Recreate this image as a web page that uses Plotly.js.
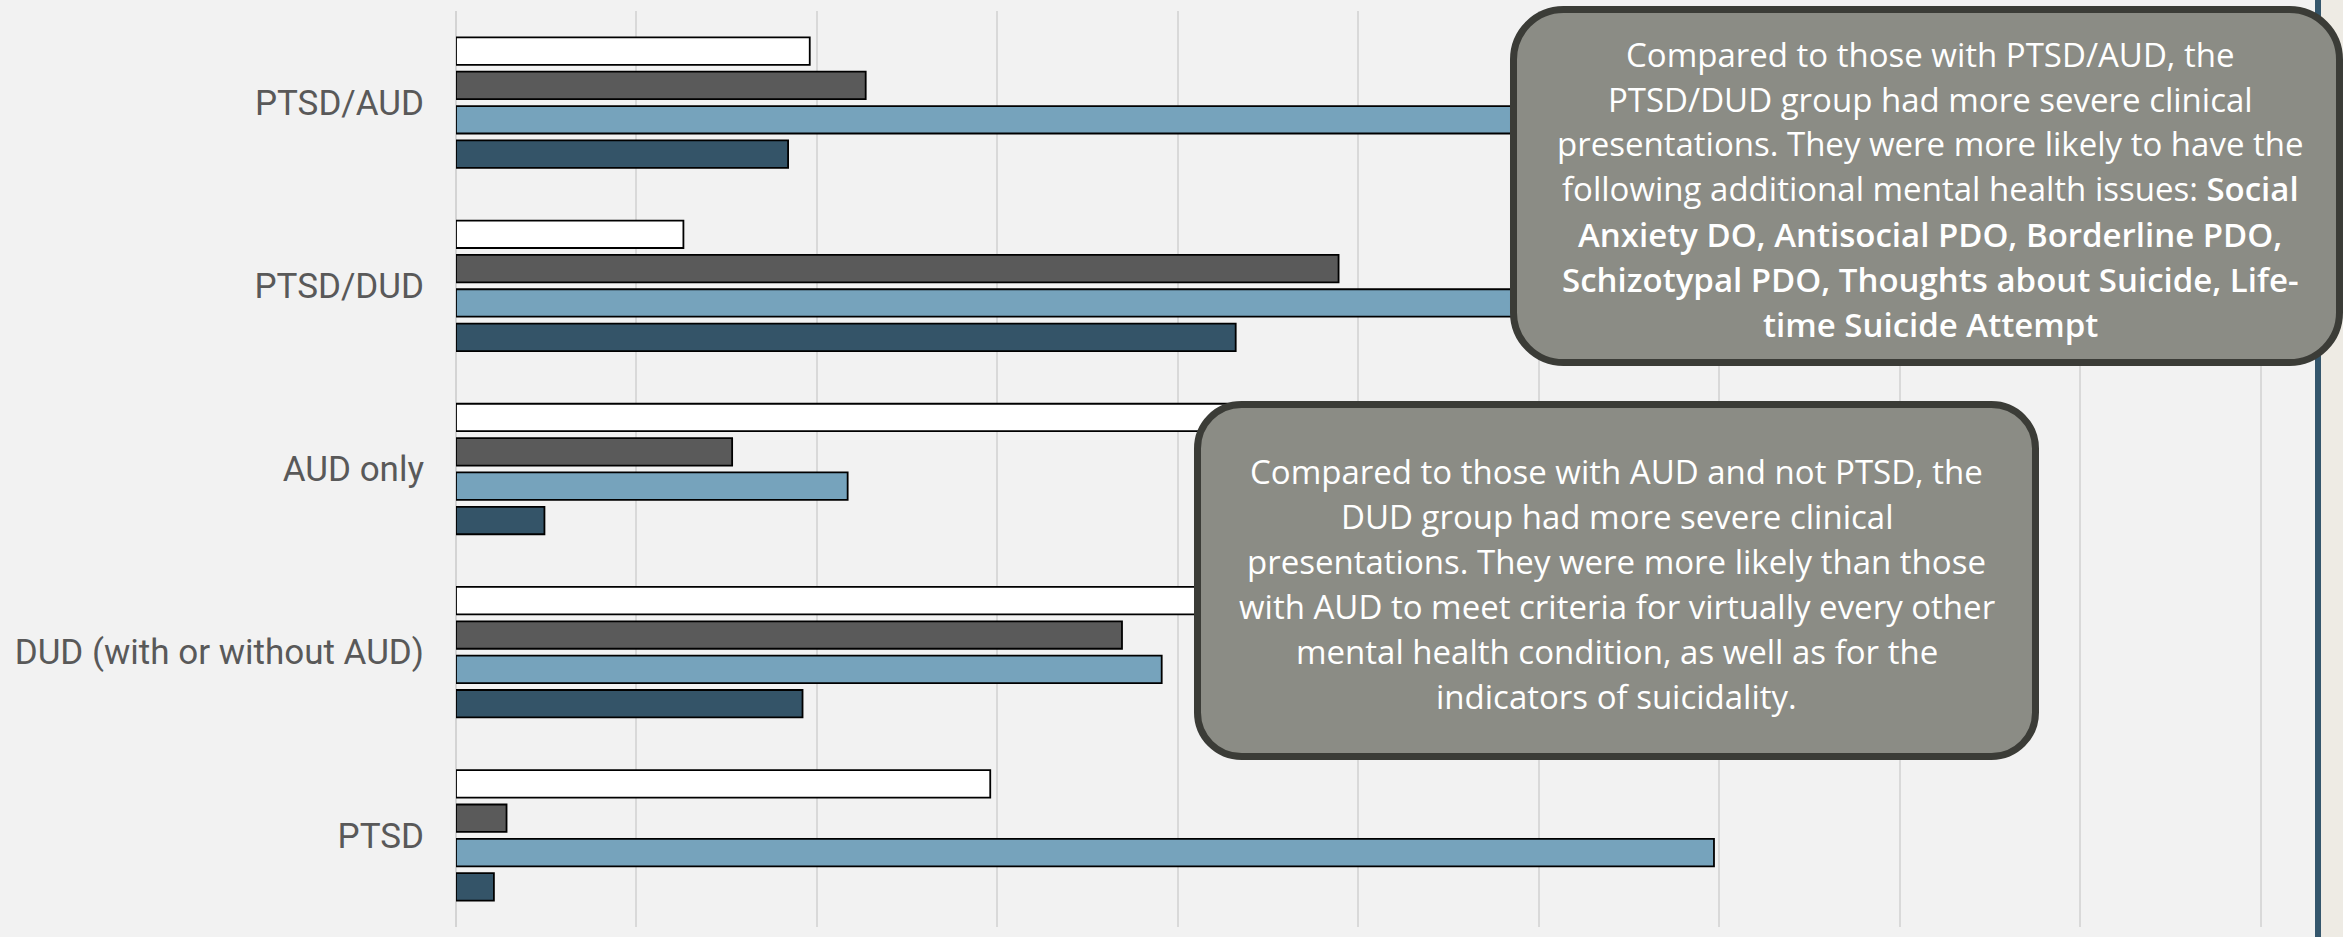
<!DOCTYPE html>
<html>
<head>
<meta charset="utf-8">
<script src="https://cdn.plot.ly/plotly-3.0.1.min.js"></script>
<style>
  html, body { margin: 0; padding: 0; background: #f2f2f2; }
  #chart { width: 2343px; height: 937px; }
</style>
</head>
<body>
<div id="chart"></div>
<script>
// Diagnostic groups, listed top to bottom
const groups = ['PTSD/AUD', 'PTSD/DUD', 'AUD only', 'DUD (with or without AUD)', 'PTSD'];

// Four series per group (percent), top bar to bottom bar
const seriesWhite = [19.6, 12.6, 46.2, 50.8, 29.6];
const seriesGray  = [22.7, 48.9, 15.3, 36.9, 2.8];
const seriesLight = [64.3, 71.5, 21.7, 39.1, 69.7];
const seriesNavy  = [18.4, 43.2, 4.9, 19.2, 2.1];

// Callout texts, one entry per line
const calloutTop = [
  'Compared to those with PTSD/AUD, the',
  'PTSD/DUD group had more severe clinical',
  'presentations. They were more likely to have the',
  'following additional mental health issues: <span style="font-weight:600">Social</span>',
  '<span style="font-weight:600">Anxiety DO, Antisocial PDO, Borderline PDO,</span>',
  '<span style="font-weight:600">Schizotypal PDO, Thoughts about Suicide, Life-</span>',
  '<span style="font-weight:600">time Suicide Attempt</span>'
];
const calloutMid = [
  'Compared to those with AUD and not PTSD, the',
  'DUD group had more severe clinical',
  'presentations. They were more likely than those',
  'with AUD to meet criteria for virtually every other',
  'mental health condition, as well as for the',
  'indicators of suicidality.'
];

// Page geometry (pixels)
const W = 2343, H = 937;
const M = { l: 456, r: 28, t: 11, b: 10 };
const plotW = W - M.l - M.r, plotH = H - M.t - M.b;
const px = v => (v - M.l) / plotW;          // pixel x -> paper x
const py = v => 1 - (v - M.t) / plotH;      // pixel y -> paper y

// Rounded rectangle as a paper-referenced path
function roundRect(x0, y0, x1, y1, r) {
  const k = 0.5523 * r;
  const P = (x, y) => px(x).toFixed(6) + ',' + py(y).toFixed(6);
  return 'M' + P(x0 + r, y0) +
    ' L' + P(x1 - r, y0) +
    ' C' + P(x1 - r + k, y0) + ' ' + P(x1, y0 + r - k) + ' ' + P(x1, y0 + r) +
    ' L' + P(x1, y1 - r) +
    ' C' + P(x1, y1 - r + k) + ' ' + P(x1 - r + k, y1) + ' ' + P(x1 - r, y1) +
    ' L' + P(x0 + r, y1) +
    ' C' + P(x0 + r - k, y1) + ' ' + P(x0, y1 - r + k) + ' ' + P(x0, y1 - r) +
    ' L' + P(x0, y0 + r) +
    ' C' + P(x0, y0 + r - k) + ' ' + P(x0 + r - k, y0) + ' ' + P(x0 + r, y0) + ' Z';
}

const barLine = { color: '#000000', width: 1.8 };
const mk = (vals, color) => ({
  type: 'bar', orientation: 'h', y: groups, x: vals,
  marker: { color: color, line: barLine }, hoverinfo: 'skip'
});

const traces = [
  mk(seriesWhite, '#ffffff'),
  mk(seriesGray,  '#5a5a5a'),
  mk(seriesLight, '#76a3bc'),
  mk(seriesNavy,  '#345468')
];

const boxFill = '#8b8c85', boxEdge = '#3b3c37';
const boxTop = { x0: 1513.5, y0: 9.5, x1: 2339.5, y1: 362.5, r: 50 };
const boxMid = { x0: 1197.5, y0: 404.5, x1: 2035.5, y1: 756.5, r: 44 };

const shapes = [
  // slide edge on the right
  { type: 'rect', xref: 'paper', yref: 'paper', x0: px(2315), x1: px(2321), y0: py(H), y1: py(0),
    fillcolor: '#34566c', line: { width: 0 }, layer: 'above' },
  { type: 'rect', xref: 'paper', yref: 'paper', x0: px(2321), x1: px(W), y0: py(H), y1: py(0),
    fillcolor: '#eeebe4', line: { width: 0 }, layer: 'above' },
  { type: 'path', xref: 'paper', yref: 'paper', layer: 'above',
    path: roundRect(boxTop.x0, boxTop.y0, boxTop.x1, boxTop.y1, boxTop.r),
    fillcolor: boxFill, line: { color: boxEdge, width: 7 } },
  { type: 'path', xref: 'paper', yref: 'paper', layer: 'above',
    path: roundRect(boxMid.x0, boxMid.y0, boxMid.x1, boxMid.y1, boxMid.r),
    fillcolor: boxFill, line: { color: boxEdge, width: 7 } }
];

const textFont = { family: '"Open Sans", "Noto Sans", sans-serif', size: 33, color: '#ffffff' };
const lineStep = 45;
const annotations = [];
calloutTop.forEach((t, i) => annotations.push({
  xref: 'paper', yref: 'paper', x: px(1930), y: py(54 + i * lineStep),
  xanchor: 'center', yanchor: 'middle', showarrow: false, text: t, font: textFont
}));
calloutMid.forEach((t, i) => annotations.push({
  xref: 'paper', yref: 'paper', x: px(1616.5), y: py(471.3 + i * lineStep),
  xanchor: 'center', yanchor: 'middle', showarrow: false, text: t, font: textFont
}));

const layout = {
  width: W, height: H,
  margin: M,
  paper_bgcolor: '#f2f2f2', plot_bgcolor: '#f2f2f2',
  barmode: 'group', bargap: 0.25, bargroupgap: 0.2,
  showlegend: false,
  xaxis: {
    range: [0, 103.0], dtick: 10, tick0: 0,
    showticklabels: false, ticks: '',
    showgrid: true, gridcolor: '#d9d9d9', gridwidth: 2,
    zeroline: true, zerolinecolor: '#d4d4d4', zerolinewidth: 2,
    showline: false, fixedrange: true
  },
  yaxis: {
    type: 'category', autorange: 'reversed',
    showgrid: false, zeroline: false, showline: false, ticks: '',
    ticklabelstandoff: 31, automargin: false,
    tickfont: { family: 'Roboto, "Liberation Sans", sans-serif', size: 35, color: '#595959' },
    fixedrange: true
  },
  shapes: shapes,
  annotations: annotations
};

Plotly.newPlot('chart', traces, layout, { staticPlot: true, displayModeBar: false });
</script>
</body>
</html>
